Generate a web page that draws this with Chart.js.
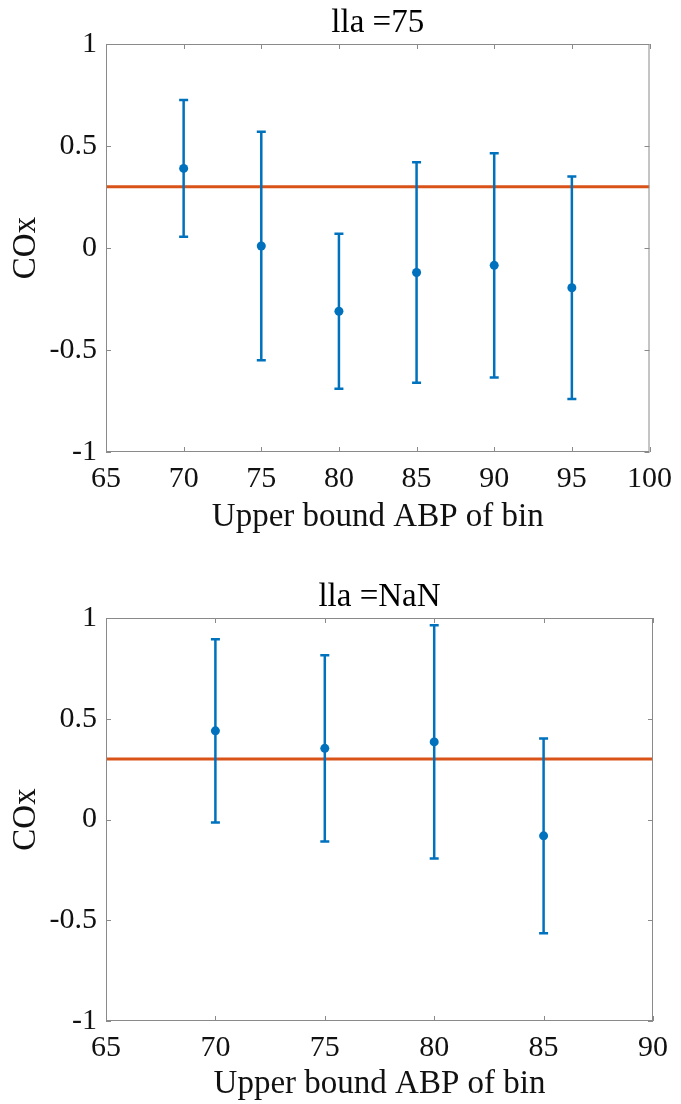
<!DOCTYPE html>
<html>
<head>
<meta charset="utf-8">
<script src="https://cdn.jsdelivr.net/npm/chart.js@4/dist/chart.umd.min.js"></script>
<style>
    html, body { margin: 0; padding: 0; background: #fff; overflow: hidden; }
    .panel { position: absolute; left: 0; width: 681px; }
    #top { top: 0; height: 552px; }
    #bottom { top: 574px; height: 530px; }
</style>
</head>
<body>
<div class="panel" id="top"><canvas id="chartTop"></canvas></div>
<div class="panel" id="bottom"><canvas id="chartBottom"></canvas></div>
<script>
// Top panel (lla = 75)
const binsTop = [70, 75, 80, 85, 90, 95];
const coxTop = [0.39, 0.01, -0.31, -0.12, -0.085, -0.195];
const errTop = [0.335, 0.56, 0.38, 0.54, 0.55, 0.545];
const xTicksTop = [65, 70, 75, 80, 85, 90, 95, 100];

// Bottom panel (lla = NaN)
const binsBottom = [70, 75, 80, 85];
const coxBottom = [0.44, 0.353, 0.385, -0.081];
const errBottom = [0.455, 0.462, 0.579, 0.483];
const xTicksBottom = [65, 70, 75, 80, 85, 90];

const yTicks = [-1, -0.5, 0, 0.5, 1];
const threshold = 0.3;

const BLUE = '#0072BD';
const ORANGE = '#D95319';
const AXIS = '#8a8a8a';
const TEXT = '#111111';

Chart.defaults.font.family = '"Liberation Serif", "Times New Roman", serif';
Chart.defaults.color = TEXT;

// Vertical error bars with caps
const errorBars = {
    id: 'errorBars',
    afterDatasetsDraw(chart, args, opts) {
        const { ctx, scales: { x, y } } = chart;
        ctx.save();
        ctx.strokeStyle = BLUE;
        ctx.lineWidth = 2.5;
        opts.bins.forEach((b, i) => {
            const px = x.getPixelForValue(b);
            const hi = y.getPixelForValue(opts.means[i] + opts.errs[i]);
            const lo = y.getPixelForValue(opts.means[i] - opts.errs[i]);
            ctx.beginPath();
            ctx.moveTo(px, hi); ctx.lineTo(px, lo);
            ctx.moveTo(px - 4.5, hi); ctx.lineTo(px + 4.5, hi);
            ctx.moveTo(px - 4.5, lo); ctx.lineTo(px + 4.5, lo);
            ctx.stroke();
        });
        ctx.restore();
    }
};

// MATLAB style box with inward ticks
const axesBox = {
    id: 'axesBox',
    afterDraw(chart) {
        const { ctx, chartArea: a, scales: { x, y } } = chart;
        ctx.save();
        ctx.strokeStyle = AXIS;
        ctx.lineWidth = 1;
        ctx.strokeRect(a.left + 0.5, a.top + 0.5, a.right - a.left - 1, a.bottom - a.top - 1);
        ctx.beginPath();
        x.ticks.forEach(t => {
            const px = Math.round(x.getPixelForValue(t.value)) + 0.5;
            ctx.moveTo(px, a.bottom); ctx.lineTo(px, a.bottom - 5);
            ctx.moveTo(px, a.top); ctx.lineTo(px, a.top + 5);
        });
        y.ticks.forEach(t => {
            const py = Math.round(y.getPixelForValue(t.value)) + 0.5;
            ctx.moveTo(a.left, py); ctx.lineTo(a.left + 5, py);
            ctx.moveTo(a.right, py); ctx.lineTo(a.right - 5, py);
        });
        ctx.stroke();
        ctx.restore();
    }
};

function makeChart(id, title, bins, means, errs, xTicks, xHeight, labelPad) {
    const xMin = xTicks[0], xMax = xTicks[xTicks.length - 1];
    return new Chart(document.getElementById(id), {
        type: 'scatter',
        data: {
            datasets: [
                {
                    data: bins.map((b, i) => ({ x: b, y: means[i] })),
                    backgroundColor: BLUE,
                    borderColor: BLUE,
                    pointRadius: 4.5,
                    pointBorderWidth: 0,
                    order: 1
                },
                {
                    type: 'line',
                    data: [{ x: xMin, y: threshold }, { x: xMax, y: threshold }],
                    borderColor: ORANGE,
                    borderWidth: 3,
                    pointRadius: 0,
                    order: 2
                }
            ]
        },
        options: {
            responsive: true,
            maintainAspectRatio: false,
            animation: false,
            layout: { padding: { top: 0, right: 28, bottom: 0, left: 0 } },
            plugins: {
                legend: { display: false },
                tooltip: { enabled: false },
                title: {
                    display: true,
                    text: title,
                    fullSize: false,
                    color: '#000',
                    font: { size: 33, weight: 'normal', lineHeight: 1 },
                    padding: { top: 7, bottom: 4 }
                },
                errorBars: { bins: bins, means: means, errs: errs }
            },
            scales: {
                x: {
                    type: 'linear',
                    min: xMin,
                    max: xMax,
                    afterBuildTicks: s => { s.ticks = xTicks.map(v => ({ value: v })); },
                    afterFit: s => { s.height = xHeight; },
                    grid: { display: false, drawTicks: false },
                    border: { display: false },
                    ticks: { font: { size: 30 }, padding: 9, maxRotation: 0, autoSkip: false, callback: v => String(v) },
                    title: { display: true, text: 'Upper bound ABP of bin', font: { size: 33 }, padding: { top: 0, bottom: labelPad } }
                },
                y: {
                    min: -1,
                    max: 1,
                    afterBuildTicks: s => { s.ticks = yTicks.map(v => ({ value: v })); },
                    afterFit: s => { s.width = 106; },
                    grid: { display: false, drawTicks: false },
                    border: { display: false },
                    ticks: { font: { size: 30 }, padding: 9, autoSkip: false, callback: v => String(v) },
                    title: { display: true, text: 'COx', font: { size: 33 }, padding: { top: 7, bottom: 0 } }
                }
            }
        },
        plugins: [errorBars, axesBox]
    });
}

makeChart('chartTop', 'lla =75', binsTop, coxTop, errTop, xTicksTop, 100, 15);
makeChart('chartBottom', 'lla =NaN', binsBottom, coxBottom, errBottom, xTicksBottom, 83, 0);
</script>
</body>
</html>
